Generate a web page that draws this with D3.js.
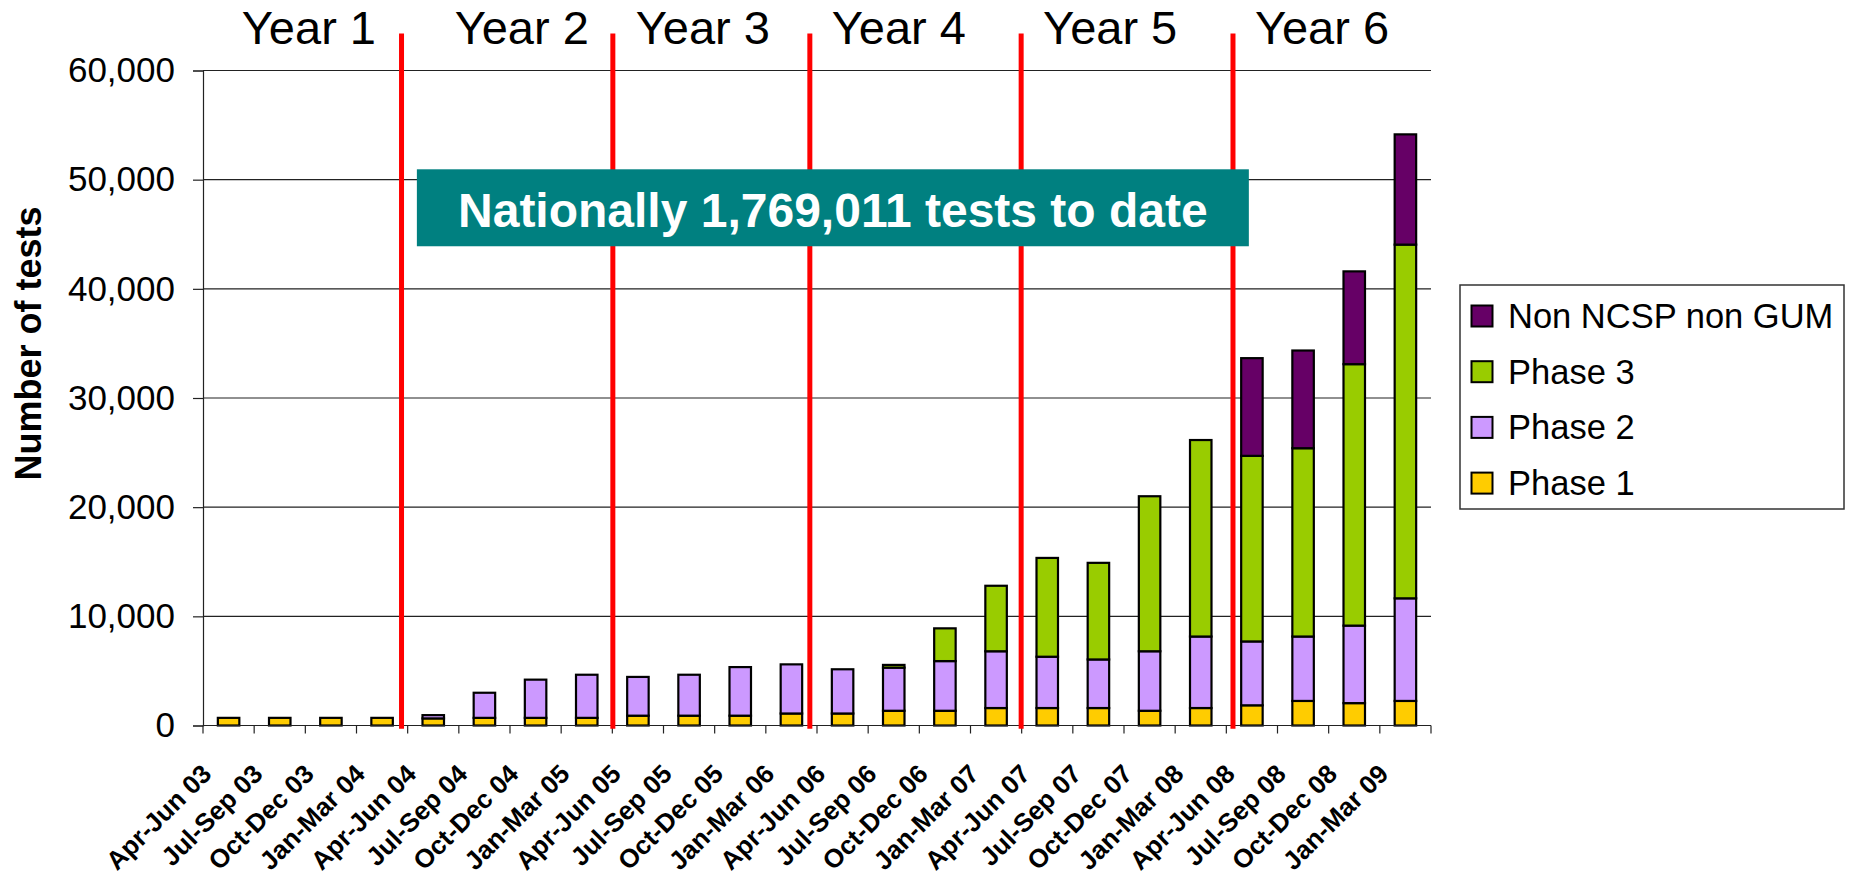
<!DOCTYPE html>
<html>
<head>
<meta charset="utf-8">
<script src="https://cdn.jsdelivr.net/npm/d3@7"></script>
<style>
  body { margin: 0; background: #fff; }
  text { font-family: Arial, "Liberation Sans", sans-serif; }
</style>
</head>
<body>
<div id="chart"></div>
<script>
// quarters on the x axis
var quarters = ["Apr-Jun 03", "Jul-Sep 03", "Oct-Dec 03", "Jan-Mar 04",
  "Apr-Jun 04", "Jul-Sep 04", "Oct-Dec 04", "Jan-Mar 05",
  "Apr-Jun 05", "Jul-Sep 05", "Oct-Dec 05", "Jan-Mar 06",
  "Apr-Jun 06", "Jul-Sep 06", "Oct-Dec 06", "Jan-Mar 07",
  "Apr-Jun 07", "Jul-Sep 07", "Oct-Dec 07", "Jan-Mar 08",
  "Apr-Jun 08", "Jul-Sep 08", "Oct-Dec 08", "Jan-Mar 09"]

// series values (tests per quarter)
var phase1 = [700, 700, 700, 700, 650, 700, 700, 700, 900, 900, 900, 1100,
  1100, 1350, 1350, 1600, 1600, 1600, 1350, 1600, 1850, 2250, 2050, 2250]
var phase2 = [0, 0, 0, 0, 300, 2300, 3500, 3950, 3550, 3750, 4450, 4500,
  4050, 3950, 4550, 5200, 4700, 4450, 5450, 6550, 5850, 5900, 7100, 9400]
var phase3 = [0, 0, 0, 0, 0, 0, 0, 0, 0, 0, 0, 0,
  0, 250, 3000, 6000, 9050, 8850, 14200, 18000, 17000, 17250, 23950, 32400]
var nonNcsp = [0, 0, 0, 0, 0, 0, 0, 0, 0, 0, 0, 0,
  0, 0, 0, 0, 0, 0, 0, 0, 8950, 8950, 8500, 10100]

var seriesNames = ["Phase 1", "Phase 2", "Phase 3", "Non NCSP non GUM"]
var seriesColors = ["#FFCC00", "#CC99FF", "#99CC00", "#660066"]

var yTicks = [0, 10000, 20000, 30000, 40000, 50000, 60000]

// year separators and labels, in quarter units along the axis
var yearNames = ["Year 1", "Year 2", "Year 3", "Year 4", "Year 5", "Year 6"]
var yearLabelPos = [2.07, 6.23, 9.77, 13.6, 17.73, 21.87]
var yearLinePos = [3.88, 8.01, 11.86, 15.99, 20.13]

var noteText = "Nationally 1,769,011 tests to date"

var width = 1852, height = 878
var plot = { left: 203, right: 1431, top: 70.5, bottom: 725.5 }

var svg = d3.select("#chart")
  .append("svg")
  .attr("width", width)
  .attr("height", height)

var x = d3.scaleBand()
  .domain(quarters)
  .range([plot.left, plot.right])
  .paddingInner(0.58)
  .paddingOuter(0.29)

var xPos = d3.scaleLinear()
  .domain([0, quarters.length])
  .range([plot.left, plot.right])

var y = d3.scaleLinear()
  .domain([0, 60000])
  .range([plot.bottom, plot.top])

// gridlines
svg.append("g")
  .selectAll("line")
  .data(yTicks.slice(1))
  .enter()
  .append("line")
  .attr("x1", plot.left)
  .attr("x2", plot.right)
  .attr("y1", function (d) { return y(d) })
  .attr("y2", function (d) { return y(d) })
  .attr("stroke", "#222")
  .attr("stroke-width", 1.2)

// y axis
var yAxis = svg.append("g")
  .attr("transform", "translate(" + plot.left + ",0)")
  .call(d3.axisLeft(y).tickValues(yTicks).tickFormat(d3.format(",")).tickSize(10).tickPadding(18))
yAxis.select(".domain").attr("stroke", "#222").attr("stroke-width", 1.2)
yAxis.selectAll(".tick line").attr("stroke", "#222").attr("stroke-width", 1.2)
yAxis.selectAll(".tick text")
  .attr("font-size", 35)
  .attr("font-family", "Arial, 'Liberation Sans', sans-serif")
  .attr("fill", "#000")

svg.append("text")
  .attr("transform", "translate(41," + y(35000) + ") rotate(-90)")
  .attr("text-anchor", "middle")
  .attr("font-size", 36)
  .attr("font-weight", "bold")
  .text("Number of tests")

// stacked bars
var rows = quarters.map(function (q, i) {
  return { quarter: q, p1: phase1[i], p2: phase2[i], p3: phase3[i], non: nonNcsp[i] }
})
var stack = d3.stack().keys(["p1", "p2", "p3", "non"])
var layers = stack(rows)

svg.append("g")
  .selectAll("g")
  .data(layers)
  .enter()
  .append("g")
  .attr("fill", function (d, i) { return seriesColors[i] })
  .selectAll("rect")
  .data(function (d) { return d.filter(function (s) { return s[1] - s[0] > 0 }) })
  .enter()
  .append("rect")
  .attr("x", function (d) { return x(d.data.quarter) })
  .attr("width", x.bandwidth())
  .attr("y", function (d) { return y(d[1]) })
  .attr("height", function (d) { return y(d[0]) - y(d[1]) })
  .attr("stroke", "#000")
  .attr("stroke-width", 2.2)

// x axis line and ticks
var xAxis = svg.append("g")
xAxis.append("line")
  .attr("x1", plot.left)
  .attr("x2", plot.right)
  .attr("y1", y(0))
  .attr("y2", y(0))
  .attr("stroke", "#222")
  .attr("stroke-width", 1.2)
xAxis.selectAll(".xtick")
  .data(d3.range(quarters.length + 1))
  .enter()
  .append("line")
  .attr("x1", function (d) { return xPos(d) })
  .attr("x2", function (d) { return xPos(d) })
  .attr("y1", y(0))
  .attr("y2", y(0) + 8)
  .attr("stroke", "#222")
  .attr("stroke-width", 1.2)
xAxis.selectAll(".xlabel")
  .data(quarters)
  .enter()
  .append("text")
  .attr("transform", function (d) {
    return "translate(" + (x(d) + x.bandwidth() / 2 - 15.5) + "," + (y(0) + 50) + ") rotate(-45)"
  })
  .attr("text-anchor", "end")
  .attr("font-size", 26)
  .attr("font-weight", "bold")
  .text(function (d) { return d })

// year separators
svg.append("g")
  .selectAll("line")
  .data(yearLinePos)
  .enter()
  .append("line")
  .attr("x1", function (d) { return xPos(d) })
  .attr("x2", function (d) { return xPos(d) })
  .attr("y1", y(63400))
  .attr("y2", y(-300))
  .attr("stroke", "#FF0000")
  .attr("stroke-width", 5)

svg.append("g")
  .selectAll("text")
  .data(yearNames)
  .enter()
  .append("text")
  .attr("x", function (d, i) { return xPos(yearLabelPos[i]) })
  .attr("y", 44)
  .attr("text-anchor", "middle")
  .attr("font-size", 47)
  .text(function (d) { return d })

// annotation box
svg.append("rect")
  .attr("x", xPos(4.18))
  .attr("y", y(50950))
  .attr("width", xPos(20.44) - xPos(4.18))
  .attr("height", y(43900) - y(50950))
  .attr("fill", "#008080")
svg.append("text")
  .attr("x", (xPos(4.18) + xPos(20.44)) / 2)
  .attr("y", 227)
  .attr("text-anchor", "middle")
  .attr("font-size", 48)
  .attr("font-weight", "bold")
  .attr("fill", "#fff")
  .text(noteText)

// legend
var legend = svg.append("g").attr("transform", "translate(1460,285)")
legend.append("rect")
  .attr("width", 384)
  .attr("height", 224)
  .attr("fill", "#fff")
  .attr("stroke", "#333")
  .attr("stroke-width", 1.5)
var items = legend.selectAll(".item")
  .data(seriesNames.slice().reverse())
  .enter()
  .append("g")
  .attr("transform", function (d, i) { return "translate(0," + (31 + i * 55.7) + ")" })
items.append("rect")
  .attr("x", 11.5)
  .attr("y", -10.5)
  .attr("width", 21)
  .attr("height", 21)
  .attr("fill", function (d) { return seriesColors[seriesNames.indexOf(d)] })
  .attr("stroke", "#000")
  .attr("stroke-width", 2)
items.append("text")
  .attr("x", 48)
  .attr("y", 12)
  .attr("font-size", 34.5)
  .text(function (d) { return d })
</script>
</body>
</html>
